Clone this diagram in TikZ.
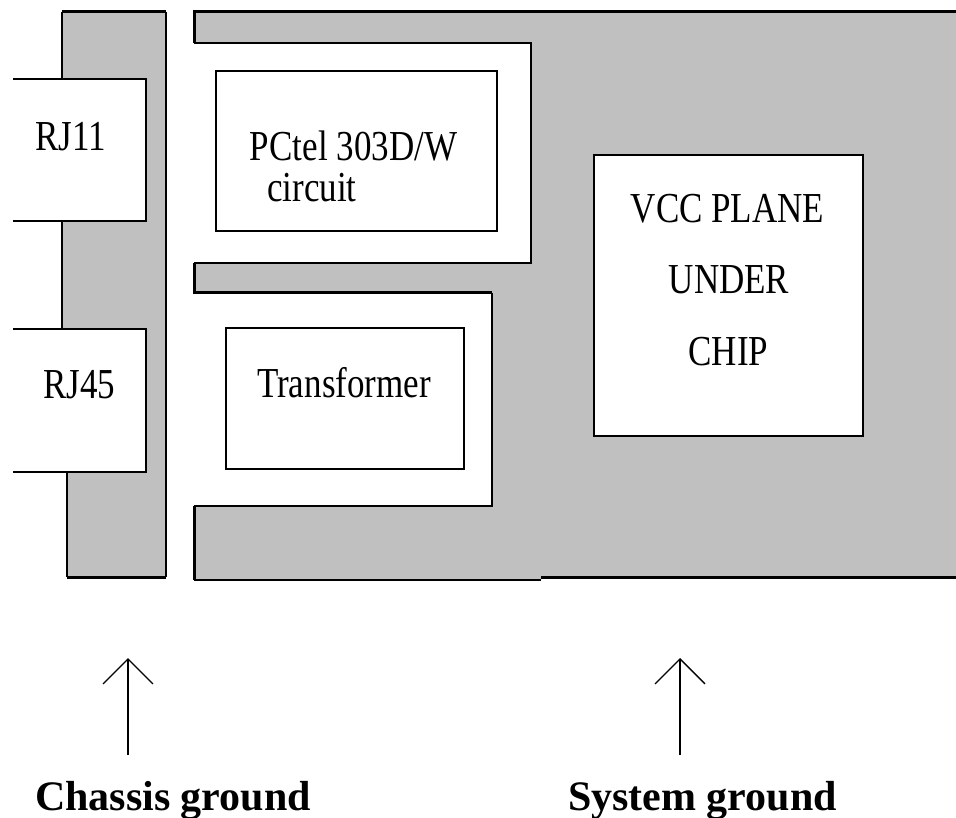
\documentclass[tikz,border=0pt]{standalone}
\usepackage{fontspec}
\setmainfont{Liberation Serif}
\usepackage{xcolor}
\usepackage{graphicx}
\usetikzlibrary{arrows.meta}
\definecolor{planegray}{HTML}{C0C0C0}
\newcommand{\tallt}[1]{\scalebox{1}[1.22]{#1}}

\begin{document}
\begin{tikzpicture}[x=1pt, y=-1pt,
    edge/.style={line width=1.3pt},
    heavy/.style={line width=3pt},
    box/.style={draw, line width=1.3pt, fill=white, inner sep=0pt},
    lbl/.style={anchor=base, inner sep=0pt, font=\fontsize{35}{40}\selectfont},
    gnd/.style={anchor=base, inner sep=0pt, font=\fontsize{42}{50}\selectfont\bfseries},
    gndarrow/.style={line width=1.3pt, -{Straight Barb[length=25pt, width=50pt]}}]
    \useasboundingbox (0,0) rectangle (956,818);
    % Chassis strip
    \fill[planegray] (62,12) -- (166,12) -- (166,577) -- (67,577) -- (67,472) -- (62,472) -- cycle;
    \draw[edge] (62,79) -- (62,12);
    \draw[edge] (62,221) -- (62,329);
    \draw[edge] (67,472) -- (67,577);
    \draw[edge] (166,12) -- (166,577);
    \draw[heavy] (62,12) -- (166,12);
    \draw[heavy] (67,577) -- (166,577);
    % Connectors
    \fill[white] (13,79) rectangle (146,221);
    \draw[edge] (13,79) -- (146,79) -- (146,221) -- (13,221);
    \node[lbl] (rj11) at (70.5,151) {\tallt{RJ11}};
    \fill[white] (13,329) rectangle (146,472);
    \draw[edge] (13,329) -- (146,329) -- (146,472) -- (13,472);
    \node[lbl] (rj45) at (79.5,398) {\tallt{RJ45}};
    % System ground plane
    \fill[planegray] (194,12) -- (956,12) -- (956,577) -- (541,577) -- (541,580) -- (194,580)
        -- (194,506) -- (492,506) -- (492,293) -- (194,293) -- (194,263) -- (531,263)
        -- (531,43) -- (194,43) -- cycle;
    \draw[edge] (194,43) -- (531,43) -- (531,263) -- (194,263);
    \draw[edge] (492,293) -- (492,506) -- (194,506);
    \draw[edge] (194,580) -- (541,580);
    \draw[heavy] (194,43) -- (194,12) -- (956,12);
    \draw[heavy] (194,263) -- (194,293) -- (492,293);
    \draw[heavy] (194,506) -- (194,580);
    \draw[heavy] (541,577) -- (956,577);
    % Parts
    \node[box, minimum width=281pt, minimum height=160pt] (pctel) at (356.5,151) {};
    \node[lbl] (pctxt) at (353.5,161) {\tallt{PCtel 303D/W}};
    \node[lbl] (pcsub) at (312,202) {\tallt{circuit}};
    \node[box, minimum width=238pt, minimum height=141pt] (xfmr) at (345,398.5) {};
    \node[lbl] (xftxt) at (344,397) {\tallt{Transformer}};
    \node[box, minimum width=269pt, minimum height=281pt] (vcc) at (728.5,295.5) {};
    \node[lbl] (vcc1) at (727.5,223) {\tallt{VCC PLANE}};
    \node[lbl] (vcc2) at (729,294) {\tallt{UNDER}};
    \node[lbl] (vcc3) at (728.5,365) {\tallt{CHIP}};
    % Grounds
    \coordinate (cfoot) at (128,755);
    \coordinate (ctip) at (128,658);
    \draw[gndarrow] (cfoot) -- (ctip);
    \node[gnd] (chassis) at (173,810) {Chassis ground};
    \coordinate (sfoot) at (680,755);
    \coordinate (stip) at (680,658);
    \draw[gndarrow] (sfoot) -- (stip);
    \node[gnd] (system) at (702.5,810) {System ground};
\end{tikzpicture}
\end{document}
